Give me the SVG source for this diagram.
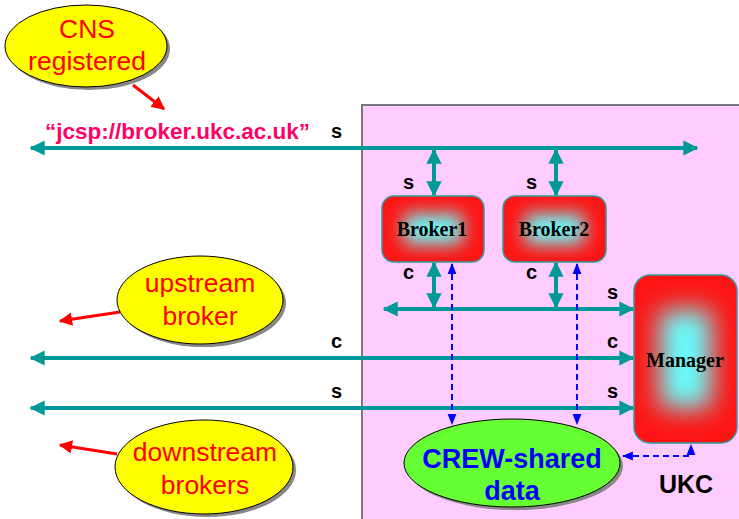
<svg xmlns="http://www.w3.org/2000/svg" width="739" height="519" viewBox="0 0 739 519">
<defs>
<filter id="blur" x="-100%" y="-100%" width="300%" height="300%"><feGaussianBlur stdDeviation="9"/></filter>
<filter id="blurM" x="-100%" y="-100%" width="300%" height="300%"><feGaussianBlur stdDeviation="13"/></filter>
<clipPath id="c1"><rect x="382" y="196" width="102" height="66" rx="12"/></clipPath>
<clipPath id="c2"><rect x="503" y="196" width="103" height="66" rx="12"/></clipPath>
<clipPath id="c3"><rect x="634" y="275" width="103" height="168" rx="16"/></clipPath>
<marker id="ta" viewBox="0 0 10 10" refX="9" refY="5" markerWidth="3.8" markerHeight="3.8" orient="auto-start-reverse" markerUnits="strokeWidth"><path d="M0,0 L10,5 L0,10 z" fill="#009999"/></marker>
<marker id="ra" viewBox="0 0 10 10" refX="9" refY="5" markerWidth="4.5" markerHeight="4.5" orient="auto-start-reverse" markerUnits="strokeWidth"><path d="M0,0 L10,5 L0,10 z" fill="#FF0000"/></marker>
<marker id="ba" viewBox="0 0 10 10" refX="9" refY="5" markerWidth="5.5" markerHeight="5.5" orient="auto-start-reverse" markerUnits="strokeWidth"><path d="M0,1 L10,5 L0,9 z" fill="#0000FF"/></marker>
<style>
.t{stroke:#009999;stroke-width:4;fill:none}
.r{stroke:#FF0000;stroke-width:3;fill:none}
.b{stroke:#0000FF;stroke-width:2;fill:none;stroke-dasharray:6,4}
.lbl{font-family:"Liberation Sans",Arial,sans-serif;font-weight:bold;font-size:20px;fill:#000}
.yel{fill:#FFFF00;stroke:#000;stroke-width:1}
.shadow{fill:#888}
.rt{font-family:"Liberation Sans",Arial,sans-serif;font-size:26.5px;fill:#FF0000;text-anchor:middle}
.red{fill:#FF1414}
.glow{fill:#66FFFF}
.edge{fill:none;stroke:#339999;stroke-width:1.5}
.bt{font-family:"Liberation Serif","Times New Roman",serif;font-weight:bold;font-size:20px;fill:#000;text-anchor:middle}
</style>
</defs>
<rect x="0" y="0" width="739" height="519" fill="#fff"/>
<rect id="ukc-area" x="362" y="105" width="380" height="420" fill="#FFCCFF" stroke="#777" stroke-width="2"/>
<g id="connectors">
<line class="t" x1="31" y1="148" x2="697" y2="148" marker-start="url(#ta)" marker-end="url(#ta)"/>
<line class="t" x1="434" y1="150" x2="434" y2="195" marker-start="url(#ta)" marker-end="url(#ta)"/>
<line class="t" x1="556" y1="150" x2="556" y2="195" marker-start="url(#ta)" marker-end="url(#ta)"/>
<line class="t" x1="434" y1="263" x2="434" y2="307" marker-start="url(#ta)" marker-end="url(#ta)"/>
<line class="t" x1="556" y1="263" x2="556" y2="307" marker-start="url(#ta)" marker-end="url(#ta)"/>
<line class="t" x1="384" y1="309" x2="633" y2="309" marker-start="url(#ta)" marker-end="url(#ta)"/>
<line class="t" x1="31" y1="358" x2="633" y2="358" marker-start="url(#ta)" marker-end="url(#ta)"/>
<line class="t" x1="31" y1="408" x2="633" y2="408" marker-start="url(#ta)" marker-end="url(#ta)"/>
<line class="b" x1="452" y1="264" x2="452" y2="424" marker-start="url(#ba)" marker-end="url(#ba)"/>
<line class="b" x1="577" y1="264" x2="577" y2="424" marker-start="url(#ba)" marker-end="url(#ba)"/>
<polyline class="b" points="623,456 691,456 691,445" marker-start="url(#ba)" marker-end="url(#ba)"/>
<line class="r" x1="133" y1="85" x2="164" y2="109" marker-end="url(#ra)"/>
<line class="r" x1="120" y1="312" x2="60" y2="321" marker-end="url(#ra)"/>
<line class="r" x1="117" y1="454" x2="60" y2="445" marker-end="url(#ra)"/>
</g>
<g id="labels">
<text class="lbl" x="331" y="138">s</text>
<text class="lbl" x="403" y="189">s</text>
<text class="lbl" x="526" y="189">s</text>
<text class="lbl" x="403" y="279">c</text>
<text class="lbl" x="526" y="279">c</text>
<text class="lbl" x="607" y="299">s</text>
<text class="lbl" x="331" y="348">c</text>
<text class="lbl" x="607" y="348">c</text>
<text class="lbl" x="331" y="398">s</text>
<text class="lbl" x="607" y="398">s</text>
<text x="45" y="139" font-family="'Liberation Sans',Arial,sans-serif" font-weight="bold" font-size="22.5" fill="#FF0066">“jcsp://broker.ukc.ac.uk”</text>
<text x="686" y="493" font-family="'Liberation Sans',Arial,sans-serif" font-weight="bold" font-size="25" fill="#000" text-anchor="middle">UKC</text>
</g>
<g id="cns">
<ellipse class="shadow" cx="89" cy="49" rx="81" ry="41"/>
<ellipse class="yel" cx="86" cy="46" rx="81" ry="41"/>
<text class="rt" x="87" y="38">CNS</text>
<text class="rt" x="87" y="70">registered</text>
</g>
<g id="upstream">
<ellipse class="shadow" cx="203" cy="303" rx="83" ry="44"/>
<ellipse class="yel" cx="200" cy="300" rx="83" ry="44"/>
<text class="rt" x="200" y="292">upstream</text>
<text class="rt" x="200" y="325">broker</text>
</g>
<g id="downstream">
<ellipse class="shadow" cx="207" cy="470" rx="89" ry="47"/>
<ellipse class="yel" cx="204" cy="467" rx="89" ry="47"/>
<text class="rt" x="205" y="461">downstream</text>
<text class="rt" x="205" y="494">brokers</text>
</g>
<g id="broker1">
<rect class="red" x="382" y="196" width="102" height="66" rx="12"/>
<g clip-path="url(#c1)"><rect class="glow" x="404" y="214" width="58" height="30" filter="url(#blur)"/></g>
<rect class="edge" x="382" y="196" width="102" height="66" rx="12"/>
<text class="bt" x="432" y="236">Broker1</text>
</g>
<g id="broker2">
<rect class="red" x="503" y="196" width="103" height="66" rx="12"/>
<g clip-path="url(#c2)"><rect class="glow" x="525" y="214" width="59" height="30" filter="url(#blur)"/></g>
<rect class="edge" x="503" y="196" width="103" height="66" rx="12"/>
<text class="bt" x="554" y="236">Broker2</text>
</g>
<g id="manager">
<rect class="red" x="634" y="275" width="103" height="168" rx="16"/>
<g clip-path="url(#c3)"><rect class="glow" x="660" y="310" width="51" height="98" filter="url(#blurM)"/></g>
<rect class="edge" x="634" y="275" width="103" height="168" rx="16"/>
<text class="bt" x="685" y="367">Manager</text>
</g>
<g id="crew">
<ellipse class="shadow" cx="515" cy="466" rx="108" ry="44"/>
<ellipse cx="512" cy="463" rx="108" ry="44" fill="#66FF33" stroke="#000" stroke-width="1"/>
<text x="512" y="468" font-family="'Liberation Sans',Arial,sans-serif" font-weight="bold" font-size="27" fill="#0000FF" text-anchor="middle">CREW-shared</text>
<text x="512" y="500" font-family="'Liberation Sans',Arial,sans-serif" font-weight="bold" font-size="27" fill="#0000FF" text-anchor="middle">data</text>
</g>
</svg>
